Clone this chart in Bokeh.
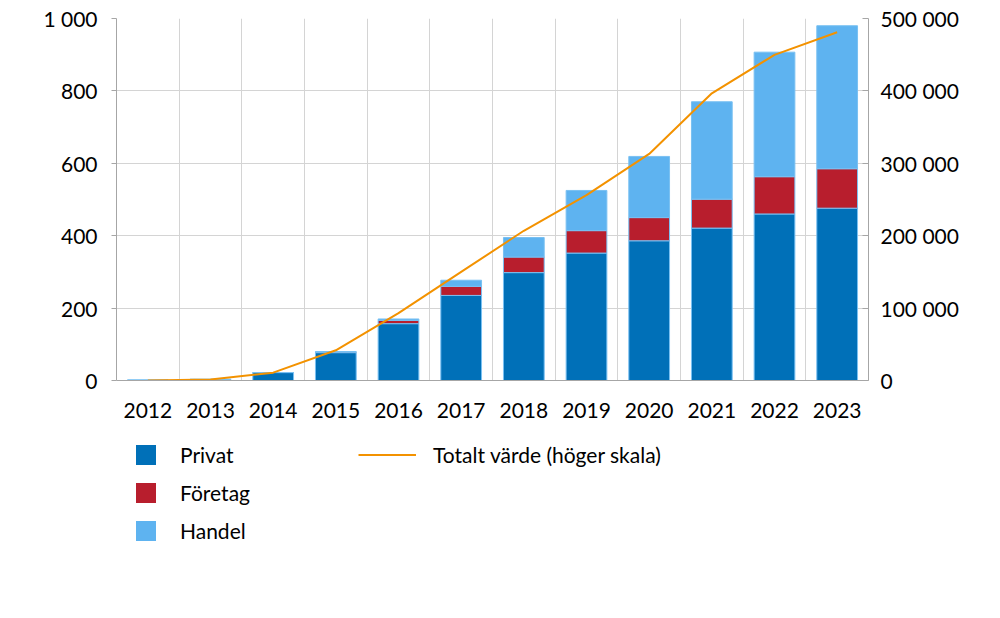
from bokeh.plotting import figure
from bokeh.layouts import column
from bokeh.models import (Range1d, LinearAxis, FixedTicker, Legend, LegendItem,
                          ColumnDataSource)
from bokeh.embed import file_html
from bokeh.resources import INLINE

years = [2012, 2013, 2014, 2015, 2016, 2017, 2018, 2019, 2020, 2021, 2022, 2023]
privat = [0.5, 3, 22, 77, 157, 235, 298, 352, 386, 421, 460, 476]
foretag = [0, 0, 0, 2, 9, 25, 43, 62, 64, 80, 103, 109]
handel = [1, 0, 0, 1, 4, 17, 54, 111, 169, 269, 344, 395]
totalt = [0, 1500, 10800, 41700, 93000, 150000, 206800, 256000, 312900, 396700, 449800, 481000]

left_ticks = [0, 200, 400, 600, 800, 1000]
left_labels = ["0", "200", "400", "600", "800", "1 000"]
right_ticks = [0, 100000, 200000, 300000, 400000, 500000]
right_labels = ["0", "100 000", "200 000", "300 000", "400 000", "500 000"]

series_names = ["Privat", "Företag", "Handel"]
line_name = "Totalt värde (höger skala)"

FONT = "Lato"
FS = "21px"
GRID = "#d4d4d4"
AXIS = "#a6a6a6"
COLORS = ["#0070b8", "#b81e2d", "#5eb3f0"]
ORANGE = "#f39200"

src = ColumnDataSource(dict(year=years, privat=privat, foretag=foretag, handel=handel))

W = 984
H_MAIN = 440
H_LEG = 162

p = figure(width=W, height=H_MAIN, output_backend="svg", toolbar_location=None,
           x_range=Range1d(2011.5, 2023.5), y_range=Range1d(0, 1000),
           min_border_left=116, min_border_right=116, min_border_top=18,
           min_border_bottom=60)
p.outline_line_color = None
p.background_fill_color = "white"
p.border_fill_color = "white"

p.extra_y_ranges = {"right": Range1d(0, 500000)}

p.vbar_stack(["privat", "foretag", "handel"], x="year", width=0.65,
             color=COLORS, source=src, line_color="#79c0f2", line_width=1)
p.line(years, totalt, y_range_name="right", line_color=ORANGE, line_width=2)

# x axis
xa = p.xaxis[0]
xa.ticker = FixedTicker(ticks=years)
xa.major_tick_in = 0
xa.major_tick_out = 0
xa.minor_tick_line_color = None
xa.axis_line_color = AXIS
xa.major_label_standoff = 22
xa.major_label_text_font = FONT
xa.major_label_text_font_size = FS
xa.major_label_text_color = "black"

# left axis
ya = p.yaxis[0]
ya.ticker = FixedTicker(ticks=left_ticks)
ya.major_label_overrides = dict(zip(left_ticks, left_labels))
ya.major_tick_in = 0
ya.major_tick_out = 5
ya.major_tick_line_color = AXIS
ya.minor_tick_line_color = None
ya.axis_line_color = AXIS
ya.major_label_standoff = 14
ya.major_label_text_font = FONT
ya.major_label_text_font_size = FS
ya.major_label_text_color = "black"

# right axis
ra = LinearAxis(y_range_name="right", ticker=FixedTicker(ticks=right_ticks),
                major_label_overrides=dict(zip(right_ticks, right_labels)))
ra.major_tick_in = 6
ra.major_tick_out = 0
ra.major_tick_line_color = AXIS
ra.minor_tick_line_color = None
ra.axis_line_color = AXIS
ra.major_label_standoff = 12
ra.major_label_text_font = FONT
ra.major_label_text_font_size = FS
ra.major_label_text_color = "black"
p.add_layout(ra, "right")

# grids
p.xgrid.ticker = FixedTicker(ticks=[2011.5 + i for i in range(13)])
p.xgrid.grid_line_color = GRID
p.ygrid.ticker = FixedTicker(ticks=left_ticks)
p.ygrid.grid_line_color = GRID

# ---- legend panel (separate figure below the chart) ----
lf = figure(width=W, height=H_LEG, output_backend="svg", toolbar_location=None,
            x_range=Range1d(2011.5, 2023.5), y_range=Range1d(0, 1000),
            min_border=0, x_axis_type=None, y_axis_type=None)
lf.outline_line_color = None
lf.grid.visible = False
lf.background_fill_color = "white"
lf.border_fill_color = "white"

# hidden renderers, used only as legend sources
lbars = lf.vbar_stack(["privat", "foretag", "handel"], x="year", width=0.65,
                      color=COLORS, source=src, line_color=None)
lline = lf.line(years, totalt, line_color=ORANGE, line_width=2)
for r in list(lbars) + [lline]:
    r.visible = False

common = dict(padding=0, margin=0, label_text_font=FONT, label_text_font_size=FS,
              label_text_color="black", border_line_color=None,
              background_fill_alpha=0, click_policy="none")
leg1 = Legend(items=[LegendItem(label=n, renderers=[r]) for n, r in zip(series_names, lbars)],
              location=(17, 59), orientation="vertical",
              glyph_width=25, glyph_height=25, spacing=13, label_standoff=22,
              **common)
leg2 = Legend(items=[LegendItem(label=line_name, renderers=[lline])],
              location=(242, 135), orientation="vertical",
              glyph_width=58, glyph_height=25, spacing=0, label_standoff=17,
              **common)
lf.add_layout(leg1, "center")
lf.add_layout(leg2, "center")

layout = column(p, lf, spacing=0)
open("out.html", "w").write(file_html(layout, INLINE))
